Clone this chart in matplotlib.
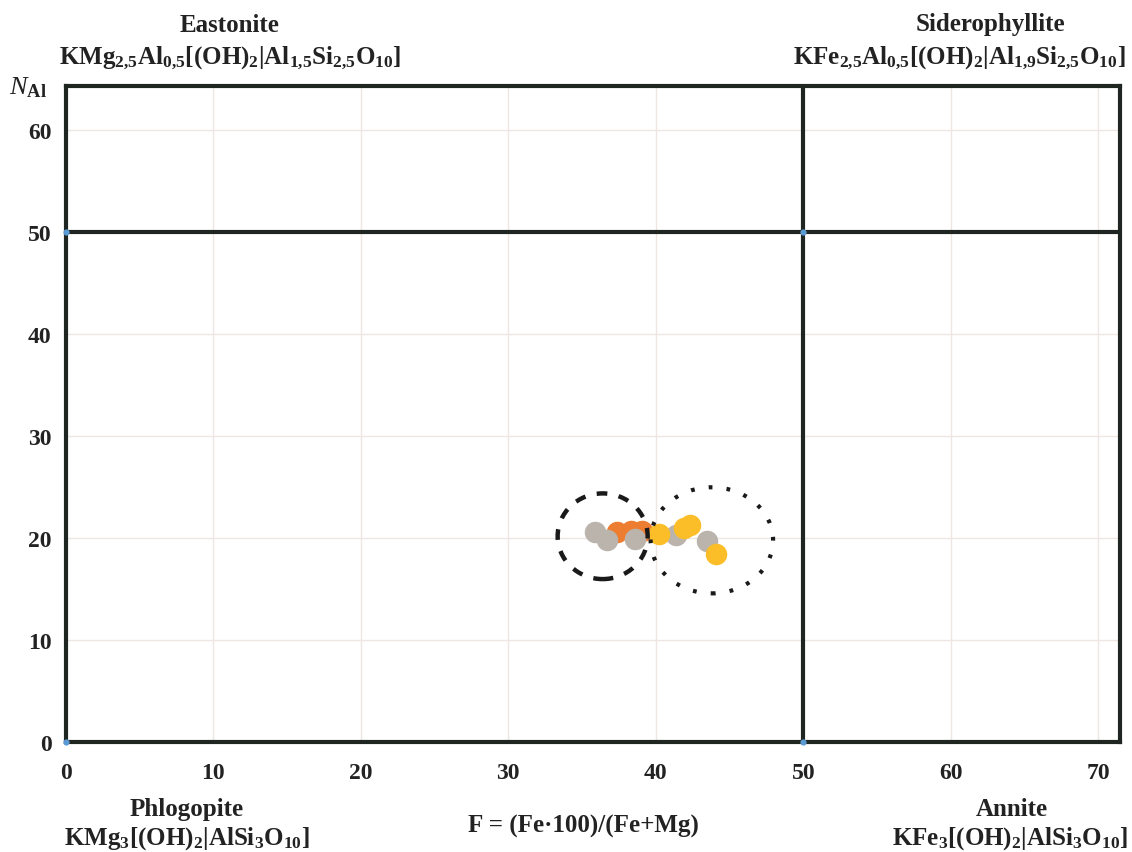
import matplotlib
matplotlib.use("Agg")
import matplotlib.pyplot as plt
from matplotlib.patches import Ellipse

plt.rcParams['font.family'] = ['Liberation Serif', 'DejaVu Serif']
plt.rcParams['mathtext.fontset'] = 'custom'
plt.rcParams['mathtext.rm'] = 'Liberation Serif:bold'
plt.rcParams['mathtext.bf'] = 'Liberation Serif:bold'
plt.rcParams['mathtext.it'] = 'Liberation Serif:italic'

# data
grey_x = [35.9, 36.7, 38.6, 41.4, 43.5]
grey_y = [20.6, 19.8, 19.9, 20.3, 19.7]
orange_x = [37.4, 38.3, 39.1]
orange_y = [20.6, 20.7, 20.7]
yellow_x = [40.2, 41.9, 42.3, 44.1]
yellow_y = [20.4, 21.0, 21.3, 18.5]
corner_x = [0, 0, 50, 50]
corner_y = [0, 50, 50, 0]
xticks = [0, 10, 20, 30, 40, 50, 60, 70]
yticks = [0, 10, 20, 30, 40, 50, 60]
# ellipses: center x, center y, width, height
ell_dash = (36.4, 20.2, 6.1, 8.4)
ell_dot = (43.8, 19.8, 8.3, 10.4)

fig = plt.figure(figsize=(11.32, 8.53), dpi=100)
ax = fig.add_axes([0.0579, 0.1286, 0.9315, 0.7698])
ax.set_xlim(0, 71.46)
ax.set_ylim(0, 64.37)

ax.set_xticks(xticks)
ax.set_yticks(yticks)
ax.grid(True, color='#eee6e2', linewidth=1.0)
ax.set_axisbelow(True)
ax.tick_params(length=0, labelsize=17, colors='#222222')
ax.tick_params(axis='x', pad=14)
ax.tick_params(axis='y', pad=10)
for lab in ax.get_xticklabels() + ax.get_yticklabels():
    lab.set_fontweight('bold')
for s in ax.spines.values():
    s.set_linewidth(3)
    s.set_color('#1f2622')

ax.axvline(50, color='#1f2622', linewidth=3, zorder=2)
ax.axhline(50, color='#1f2622', linewidth=3, zorder=2)
ax.scatter(corner_x, corner_y, s=12, color='#5b9bd5', zorder=3, clip_on=False)

ms = 240
ax.scatter(orange_x, orange_y, s=ms, color='#ed7d31', zorder=4, linewidths=0)
ax.scatter(grey_x, grey_y, s=ms, color='#bbb4ac', zorder=5, linewidths=0)
ax.scatter(yellow_x, yellow_y, s=ms, color='#fbbe28', zorder=6, linewidths=0)

e1 = Ellipse((ell_dash[0], ell_dash[1]), ell_dash[2], ell_dash[3], fill=False,
             edgecolor='#1a1a1a', linewidth=3.2, linestyle=(0, (2.4, 2.6)), zorder=7)
e2 = Ellipse((ell_dot[0], ell_dot[1]), ell_dot[2], ell_dot[3], fill=False,
             edgecolor='#1a1a1a', linewidth=3.0, linestyle=(0, (0.9, 3.4)), zorder=7)
ax.add_patch(e1)
ax.add_patch(e2)

tk = dict(fontsize=18, fontweight='bold', ha='center', va='center', color='#222222')
fig.text(230/1132, 1-25/853, 'Eastonite', **tk)
fig.text(230/1132, 1-58/853,
         r'KMg$_{2{,}5}$Al$_{0{,}5}$[(OH)$_{2}$|Al$_{1{,}5}$Si$_{2{,}5}$O$_{10}$]', **tk)
fig.text(990/1132, 1-25/853, 'Siderophyllite', **tk)
fig.text(959/1132, 1-58/853,
         r'KFe$_{2{,}5}$Al$_{0{,}5}$[(OH)$_{2}$|Al$_{1{,}9}$Si$_{2{,}5}$O$_{10}$]', **tk)
fig.text(187/1132, 1-810/853, 'Phlogopite', **tk)
fig.text(187/1132, 1-839/853,
         r'KMg$_{3}$[(OH)$_{2}$|AlSi$_{3}$O$_{10}$]', **tk)
fig.text(1012/1132, 1-810/853, 'Annite', **tk)
fig.text(1010/1132, 1-839/853,
         r'KFe$_{3}$[(OH)$_{2}$|AlSi$_{3}$O$_{10}$]', **tk)
fig.text(583/1132, 1-826/853, 'F = (Fe·100)/(Fe+Mg)', **tk)
fig.text(28/1132, 1-88/853, r'$\mathit{N}_{\mathrm{Al}}$', fontsize=19, ha='center', va='center', color='#222222')

fig.savefig('out.png', dpi=100)
